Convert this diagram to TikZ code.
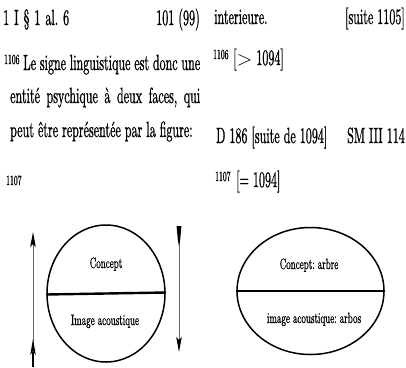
\documentclass[tikz,border=0pt]{standalone}
\usepackage{fontspec}
\usetikzlibrary{arrows.meta,shapes.geometric}
\newfontfamily\scan{lmroman10-regular.otf}[FakeStretch=0.548, FakeBold=0.8]
\newfontfamily\scanw{lmroman10-regular.otf}[FakeStretch=0.6, FakeBold=0.6]
\frenchspacing
\begin{document}
\begin{tikzpicture}[x=1pt,y=-1pt,
  txt/.style={inner sep=0pt, font=\scan\fontsize{22}{24}\selectfont, anchor=base west},
  txte/.style={txt, anchor=base east},
  sup/.style={inner sep=0pt, font=\scan\fontsize{14}{15}\selectfont, anchor=base west},
  lbl/.style={inner sep=0pt, font=\scanw\fontsize{15}{17}\selectfont, anchor=base},
  sign/.style={draw, ellipse, inner sep=0pt, line width=1.5pt},
  bar/.style={line width=2.4pt},
  shaft/.style={line width=1pt, draw=black!60},
  headtip/.style={-{Stealth[length=15pt,width=5.5pt,inset=3pt,color=black]}}]
\useasboundingbox (0,0) rectangle (406,367);
% ---- left column text
\node[txt] (l1a) at (3,25) {\makebox[66pt][s]{1 I \S{} 1 al. 6}};
\node[txte] (l1b) at (200,25) {101 (99)};
\node[sup] (n1106a) at (4,64) {1106};
\node[txt] (l2) at (23,70) {\makebox[177pt][s]{Le signe linguistique est donc une}};
\node[txt] (l3) at (10,103) {\makebox[190pt][s]{entité psychique à deux faces, qui}};
\node[txt] (l4) at (10,137) {peut être représentée par la figure:};
\node[sup] (n1107a) at (6,185) {1107};
% ---- right column text
\node[txt] (r1a) at (214,24) {interieure.};
\node[txte] (r1b) at (405,24) {[suite 1105]};
\node[sup] (n1106b) at (213,59) {1106};
\node[txt] (r2) at (233,65) {[$>$ 1094]};
\node[txt] (r3a) at (216,143) {D 186 [suite de 1094]};
\node[txte] (r3b) at (405,143) {SM III 114};
\node[sup] (n1107b) at (215,181) {1107};
\node[txt] (r4) at (236,187) {[= 1094]};
% ---- left sign
\node[sign, minimum width=118pt, minimum height=137pt] (s1) at (106,293.5) {};
\draw[bar] ([yshift=-1pt]s1.west) -- ([yshift=1pt]s1.east);
\node[lbl] (c1) at (106,268) {Concept};
\node[lbl] (i1) at (105,325) {Image acoustique};
% ---- right sign
\node[sign, minimum width=147pt, minimum height=127pt] (s2) at (310.5,291) {};
\draw[bar] (s2.west) -- (s2.east);
\node[lbl] (c2) at (309,269) {Concept: arbre};
\node[lbl] (i2) at (314,323) {image acoustique: arbos};
% ---- arrows
\coordinate (la1) at (33,367);
\coordinate (la2) at (33,232);
\draw[shaft, headtip] (la1) -- (la2);
\draw[line width=1.2pt] (33,352) -- (la1);
\fill (33,339) -- (35.8,355) -- (33,351) -- (30.2,355) -- cycle;
\coordinate (ra1) at (179,226);
\coordinate (ra2) at (179,352);
\draw[shaft, headtip] (ra1) -- (ra2);
\fill (176.6,226) -- (181.4,226) -- (180.2,240) -- (179,246) -- (177.8,240) -- cycle;
\end{tikzpicture}
\end{document}
